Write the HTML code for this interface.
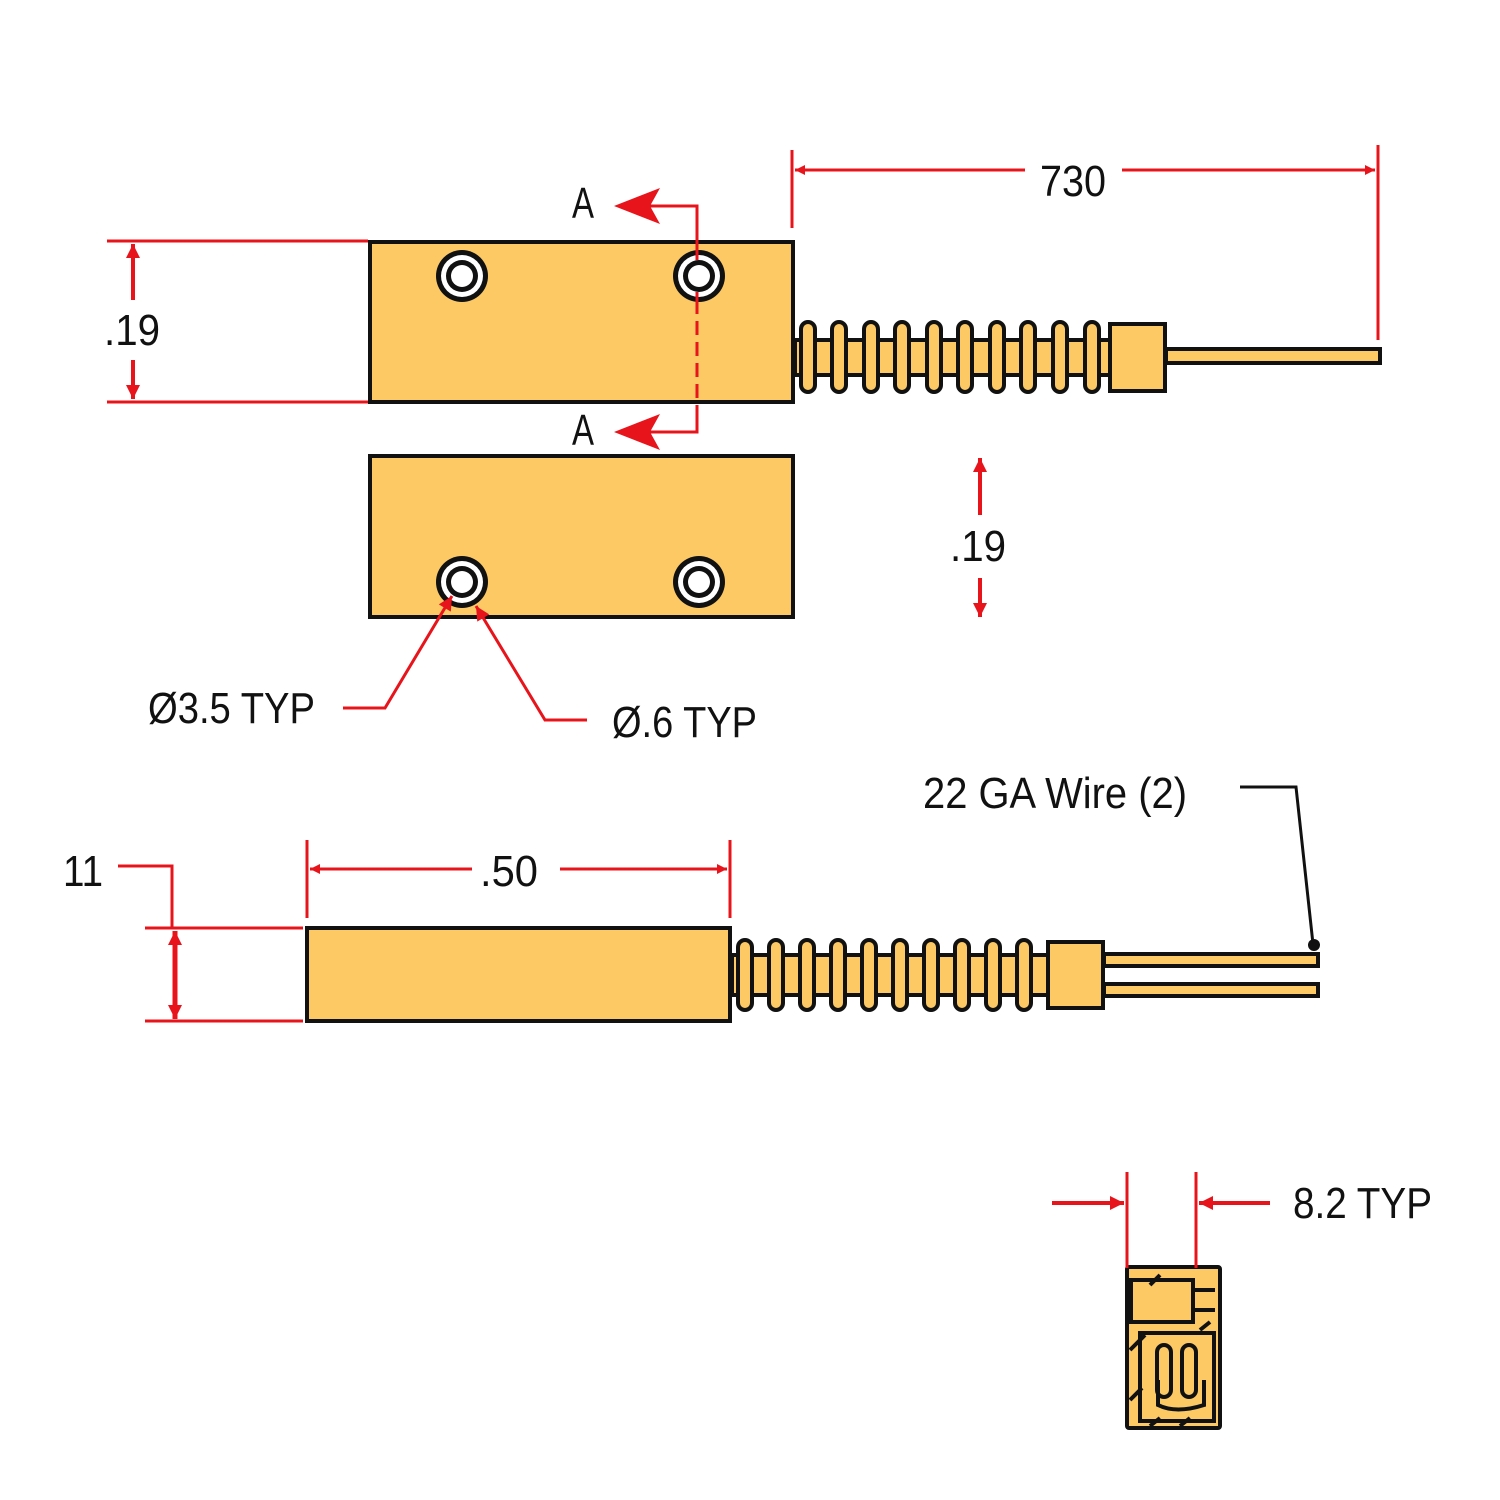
<!DOCTYPE html>
<html><head><style>
html,body{margin:0;padding:0;background:#fff}
svg{display:block}
text{font-family:"Liberation Sans",sans-serif;font-size:44px;fill:#111}
</style></head><body>
<svg width="1500" height="1500" viewBox="0 0 1500 1500" xmlns="http://www.w3.org/2000/svg">
<defs>
<marker id="ah" viewBox="0 0 10 10" refX="10" refY="5" markerWidth="14" markerHeight="10" markerUnits="userSpaceOnUse" orient="auto-start-reverse"><path d="M0,0 L10,5 L0,10 Z" fill="#e8141b"/></marker>
<marker id="ahb" viewBox="0 0 10 10" refX="10" refY="5" markerWidth="16" markerHeight="14" markerUnits="userSpaceOnUse" orient="auto-start-reverse"><path d="M0,0 L10,5 L0,10 Z" fill="#e8141b"/></marker>
<g id="hole"><circle r="26" fill="#111"/><circle r="21" fill="#fff"/><circle r="16" fill="#111"/><circle r="11" fill="#fff"/></g>
</defs>

<g stroke="#111" stroke-width="4" fill="#fdc964">
<rect x="370" y="242" width="423" height="160"/>
<rect x="795" y="340" width="315" height="35"/>
<rect x="801" y="322" width="14" height="70" rx="7"/>
<rect x="832" y="322" width="14" height="70" rx="7"/>
<rect x="864" y="322" width="14" height="70" rx="7"/>
<rect x="895" y="322" width="14" height="70" rx="7"/>
<rect x="927" y="322" width="14" height="70" rx="7"/>
<rect x="958" y="322" width="14" height="70" rx="7"/>
<rect x="990" y="322" width="14" height="70" rx="7"/>
<rect x="1021" y="322" width="14" height="70" rx="7"/>
<rect x="1053" y="322" width="14" height="70" rx="7"/>
<rect x="1085" y="322" width="14" height="70" rx="7"/>
<rect x="1166" y="349" width="214" height="14"/>
<rect x="1110" y="324" width="55" height="67"/>
<rect x="370" y="456" width="423" height="161"/>
<rect x="307" y="928" width="423" height="93"/>
<rect x="732" y="955" width="318" height="40"/>
<rect x="738" y="940" width="14" height="70" rx="7"/>
<rect x="769" y="940" width="14" height="70" rx="7"/>
<rect x="800" y="940" width="14" height="70" rx="7"/>
<rect x="831" y="940" width="14" height="70" rx="7"/>
<rect x="862" y="940" width="14" height="70" rx="7"/>
<rect x="893" y="940" width="14" height="70" rx="7"/>
<rect x="924" y="940" width="14" height="70" rx="7"/>
<rect x="955" y="940" width="14" height="70" rx="7"/>
<rect x="986" y="940" width="14" height="70" rx="7"/>
<rect x="1017" y="940" width="14" height="70" rx="7"/>
<rect x="1104" y="954" width="214" height="12"/>
<rect x="1104" y="984" width="214" height="12"/>
<rect x="1048" y="942" width="55" height="66"/>
<rect x="1127" y="1267" width="93" height="161" rx="2"/>
<rect x="1131" y="1280" width="62" height="42"/>
<rect x="1140" y="1333" width="74" height="88"/>
<rect x="1157" y="1345" width="14" height="52" rx="7"/>
<rect x="1182" y="1345" width="14" height="52" rx="7"/>
<path d="M1158,1380 L1158,1405 Q1176,1414 1204,1405 L1204,1380" fill="none"/>
</g>
<g stroke="#111" stroke-width="4" fill="none">
<path d="M1130,1350 L1145,1335 M1130,1400 L1142,1388 M1150,1285 L1160,1275 M1195,1290 L1215,1290 M1195,1310 L1215,1310 M1200,1330 L1210,1322 M1150,1426 L1160,1418 M1180,1426 L1190,1418"/>
</g>

<use href="#hole" x="462" y="276"/>
<use href="#hole" x="699" y="276"/>
<use href="#hole" x="462" y="582"/>
<use href="#hole" x="699" y="582"/>

<g stroke="#e8141b" stroke-width="3" fill="none">
<path d="M792,150 V228 M1378,145 V340"/>
<path d="M1025,170 H795" marker-end="url(#ah)"/>
<path d="M1122,170 H1375" marker-end="url(#ah)"/>
<path d="M650,206 H697 V260 M697,292 V300 M697,418 V432 H650"/>
<path d="M107,241 H368 M107,402 H368"/>
<path d="M133,300 V244" stroke-width="4" marker-end="url(#ahb)"/>
<path d="M133,360 V399" stroke-width="4" marker-end="url(#ahb)"/>
<path d="M980,515 V458" stroke-width="4" marker-end="url(#ahb)"/>
<path d="M980,578 V617" stroke-width="4" marker-end="url(#ahb)"/>
<path d="M343,708 H385 L452,596" marker-end="url(#ahb)"/>
<path d="M587,720 H545 L476,606" marker-end="url(#ahb)"/>
<path d="M307,840 V918 M730,840 V918"/>
<path d="M472,869 H310" marker-end="url(#ah)"/>
<path d="M560,869 H727" marker-end="url(#ah)"/>
<path d="M118,866 H172 V928"/>
<path d="M145,928 H303 M145,1021 H303"/>
<path d="M175,975 V931" stroke-width="5" marker-end="url(#ahb)"/>
<path d="M175,975 V1019" stroke-width="5" marker-end="url(#ahb)"/>
<path d="M1127,1172 V1268 M1196,1172 V1268"/>
<path d="M1052,1203 H1124" stroke-width="4" marker-end="url(#ahb)"/>
<path d="M1270,1203 H1199" stroke-width="4" marker-end="url(#ahb)"/>
</g>
<path d="M697,300 V420" stroke="#e8141b" stroke-width="3" stroke-dasharray="14,7" fill="none"/>
<path d="M614,206 L660,188 L650,206 L660,224 Z" fill="#e8141b"/>
<path d="M614,432 L660,414 L650,432 L660,450 Z" fill="#e8141b"/>

<path d="M1240,787 H1296 L1313,944" stroke="#111" stroke-width="3" fill="none"/>
<circle cx="1314" cy="945" r="6" fill="#111"/>

<text x="1040" y="196" textLength="66" lengthAdjust="spacingAndGlyphs">730</text>
<text x="572" y="218" textLength="22" lengthAdjust="spacingAndGlyphs" font-size="38">A</text>
<text x="572" y="445" textLength="22" lengthAdjust="spacingAndGlyphs" font-size="38">A</text>
<text x="104" y="345" textLength="56" lengthAdjust="spacingAndGlyphs">.19</text>
<text x="950" y="561" textLength="56" lengthAdjust="spacingAndGlyphs">.19</text>
<text x="148" y="723" textLength="167" lengthAdjust="spacingAndGlyphs">Ø3.5 TYP</text>
<text x="612" y="737" textLength="145" lengthAdjust="spacingAndGlyphs">Ø.6 TYP</text>
<text x="923" y="808" textLength="264" lengthAdjust="spacingAndGlyphs">22 GA Wire (2)</text>
<text x="63" y="886" textLength="40" lengthAdjust="spacingAndGlyphs">11</text>
<text x="480" y="886" textLength="58" lengthAdjust="spacingAndGlyphs">.50</text>
<text x="1293" y="1218" textLength="139" lengthAdjust="spacingAndGlyphs">8.2 TYP</text>
</svg>
</body></html>
